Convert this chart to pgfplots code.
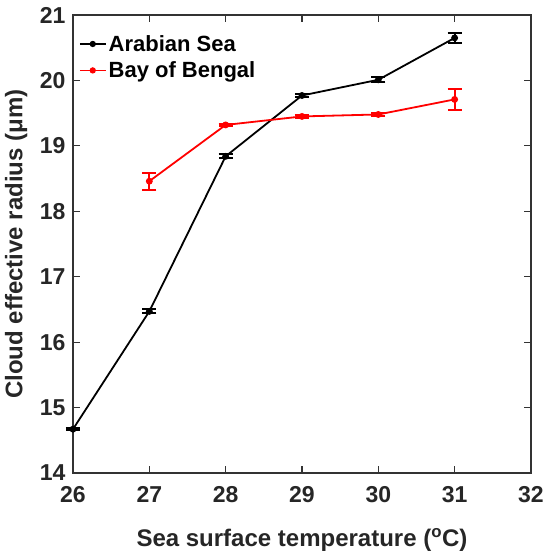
\documentclass[border=0pt]{standalone}
\usepackage{pgfplots}
\pgfplotsset{compat=1.18}
\usepackage{fontspec}
\setmainfont{Liberation Sans}
\begin{document}
\begin{tikzpicture}
\begin{axis}[
  scale only axis,
  width=458pt, height=458pt,
  clip=false,
  xmin=26, xmax=32, ymin=14, ymax=21,
  xtick={26,...,32}, ytick={14,...,21},
  tick pos=both, tick align=inside,
  major tick length=7pt,
  axis line style={line width=1.3pt, black!80},
  every tick/.style={line width=1.2pt, black!80},
  /pgf/number format/assume math mode=true,
  ticklabel style={font=\bfseries\fontsize{23}{23}\selectfont, text=black!85},
  xticklabel style={yshift=-10pt},
  yticklabel style={xshift=-4pt},
  xlabel={Sea surface temperature (\textsuperscript{o}C)},
  ylabel={Cloud effective radius (μm)},
  label style={font=\bfseries\fontsize{24}{24}\selectfont, text=black!85},
  xlabel style={at={(rel axis cs:0.5,-0.146)}, anchor=center},
  ylabel style={at={(rel axis cs:-0.124,0.5)}, anchor=center},
  legend style={draw=none, fill=none, at={(rel axis cs:0.008,0.965)}, anchor=north west,
    font=\bfseries\fontsize{22}{24}\selectfont, row sep=5pt, inner sep=2pt},
  legend cell align=left,
  legend image code/.code={\draw[#1, line width=1.8pt] (0pt,0pt) -- (26pt,0pt) plot[mark=*, mark size=2.2pt] coordinates {(13pt,0pt)};},
]
\path (rel axis cs:-0.1594,-0.1878) rectangle (rel axis cs:1.0371,1.0328);
\addplot+[black, line width=1.8pt, mark=*, mark size=2.5pt, mark options={fill=black},
  error bars/.cd, y dir=both, y explicit,
  error bar style={line width=2pt, black},
  error mark options={mark size=7pt, line width=2pt, rotate=90, black}]
  table[x=x, y=y, y error=e] {
x y e
26 14.67 0.02
27 16.47 0.03
28 18.84 0.03
29 19.77 0.02
30 20.01 0.04
31 20.65 0.08
};
\addlegendentry{Arabian Sea}
\addplot+[red, line width=1.8pt, mark=*, mark size=2.5pt, mark options={fill=red},
  error bars/.cd, y dir=both, y explicit,
  error bar style={line width=2pt, red},
  error mark options={mark size=7pt, line width=2pt, rotate=90, red}]
  table[x=x, y=y, y error=e] {
x y e
27 18.46 0.13
28 19.32 0.02
29 19.45 0.02
30 19.48 0.02
31 19.71 0.165
};
\addlegendentry{Bay of Bengal}
\end{axis}
\end{tikzpicture}
\end{document}
